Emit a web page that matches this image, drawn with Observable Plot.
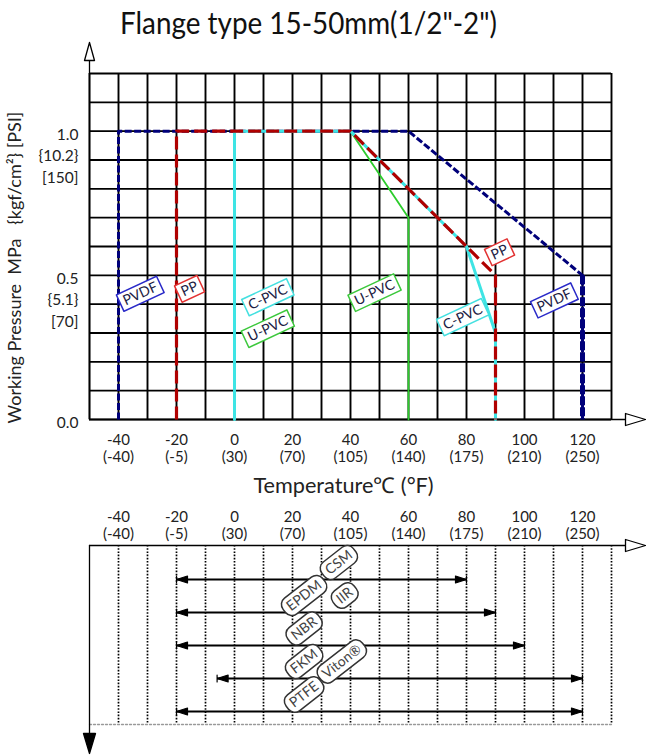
<!DOCTYPE html>
<html><head><meta charset="utf-8">
<script src="https://cdn.jsdelivr.net/npm/d3@7"></script>
<script src="https://cdn.jsdelivr.net/npm/@observablehq/plot@0.6"></script>
<style>
body{margin:0;background:#fff;}
#chart{width:646px;position:relative;}
#chart svg{display:block;}
#titlebox{height:40px;position:relative;overflow:visible;}
#title{position:absolute;left:0;top:2px;white-space:nowrap;font-size:31px;line-height:40px;color:#111;transform-origin:0 50%;}
</style></head><body>
<div id="chart"><div id="titlebox"><span id="title">Flange type 15-50mm(1/2"-2")</span></div></div>
<script>
const FONT = "Lato, 'Open Sans', sans-serif";

// ---- data ----
const tempC = [-40, -20, 0, 20, 40, 60, 80, 100, 120];
const tempF = ["(-40)", "(-5)", "(30)", "(70)", "(105)", "(140)", "(175)", "(210)", "(250)"];
const gridT = [-50, -40, -30, -20, -10, 0, 10, 20, 30, 40, 50, 60, 70, 80, 90, 100, 110, 120, 130];
const gridP = [0, 0.1, 0.2, 0.3, 0.4, 0.5, 0.6, 0.7, 0.8, 0.9, 1.0, 1.1, 1.2];
const dotT = [-40, -30, -20, -10, 0, 10, 20, 30, 40, 50, 60, 70, 80, 90, 100, 110, 120, 130];
const pTicks = [1.0, 0.5, 0.0];
const pTickLabels = ["1.0\n{10.2}\n[150]", "0.5\n{5.1}\n[70]", "0.0"];

const pvdfT = [-40, -40, 60, 120, 120];
const pvdfP = [0, 1.0, 1.0, 0.5, 0];
const ppT = [-20, -20, 40, 80, 90, 90];
const ppP = [0, 1.0, 1.0, 0.6, 0.5, 0];
const cpvcT = [0, 0, 40, 80, 90, 90];
const cpvcP = [0, 1.0, 1.0, 0.6, 0.3, 0];
const upvcT = [0, 0, 40, 60, 60];
const upvcP = [0, 1.0, 1.0, 0.7, 0];

const matLabels = ["PVDF", "PP", "C-PVC", "U-PVC", "U-PVC", "PP", "C-PVC", "PVDF"];
const matLabelT = [-32.5, -15.5, 11.5, 11.5, 48.3, 91.4, 78.7, 110.3];
const matLabelP = [0.436, 0.453, 0.424, 0.315, 0.44, 0.58, 0.355, 0.413];

const gaskets = ["CSM", "EPDM·IIR", "NBR", "FKM·Viton", "PTFE"];
const gasketMin = [-20, -20, -20, -6, -20];
const gasketMax = [80, 90, 100, 120, 120];
const tagNames = ["CSM", "EPDM", "IIR", "NBR", "FKM", "Viton®", "PTFE"];
const tagRow = ["CSM", "EPDM·IIR", "EPDM·IIR", "NBR", "FKM·Viton", "FKM·Viton", "PTFE"];
const tagT = [36, 24, 38, 24, 24, 37, 24];

const yTitle = "Working Pressure\u00a0\u00a0MPa\u00a0\u00a0\u00a0{kgf/cm²}\u00a0[PSI]";
const xTitle = "Temperature℃ (°F)";

// ---- tables ----
const toPts = (T, P) => T.map((t, i) => ({t, p: P[i]}));
const pvdf = toPts(pvdfT, pvdfP), pp = toPts(ppT, ppP), cpvc = toPts(cpvcT, cpvcP), upvc = toPts(upvcT, upvcP);
const mats = matLabels.map((name, i) => ({name, t: matLabelT[i], p: matLabelP[i]}));
const gas = gaskets.map((row, i) => ({row, min: gasketMin[i], max: gasketMax[i]}));
const tags = tagNames.map((name, i) => ({name, row: tagRow[i], t: tagT[i]}));

// ---- helpers ----
const mctx = document.createElement("canvas").getContext("2d");
function textW(s, size) { mctx.font = `${size}px ${FONT}`; return mctx.measureText(s).width; }
const fitSize = (s, target, base) => base * target / textW(s, base);

// title: condensed to the reference width (120 → 497 px)
const titleEl = document.getElementById("title");
titleEl.style.fontFamily = FONT;
const tw = textW(titleEl.textContent, 31);
titleEl.style.left = "120px";
titleEl.style.transform = `scaleX(${377 / tw})`;

const boxColor = {"PVDF": "#2a2ac8", "PP": "#e23232", "C-PVC": "#45e0e0", "U-PVC": "#3cc83c"};
const lineShape = {draw(c, l) { c.moveTo(0, 0); c.lineTo(0, -l); }};
const axisArrow = (head, half) => ({draw(c, l) {
  c.moveTo(0, 0); c.lineTo(0, -l + head);
  c.moveTo(0, -l); c.lineTo(-half, -l + head); c.lineTo(half, -l + head); c.closePath();
}});
const headShape = {draw(c, l, r) {
  c.moveTo(0, 0); c.lineTo(-r, l); c.lineTo(r, l); c.closePath();
  c.moveTo(-r, 0); c.lineTo(r, 0);
}};
const boxShape = {draw(c, l, r) { c.rect(-r, -l, 2 * r, l); }};
const roundShape = {draw(c, l, r) {
  const k = 8;
  c.moveTo(0, -l);
  c.arcTo(r, -l, r, 0, k); c.arcTo(r, 0, -r, 0, k);
  c.arcTo(-r, 0, -r, -l, k); c.arcTo(-r, -l, r, -l, k); c.closePath();
}};

const W = 646;
const topPlot = Plot.plot({
  width: W, height: 460,
  marginLeft: 89, marginRight: 35, marginTop: 33, marginBottom: 81,
  x: {domain: [-50, 130], axis: null},
  y: {domain: [0, 1.2], axis: null},
  length: {type: "identity"},
  style: {fontFamily: FONT, background: "white", overflow: "visible", color: "#111"},
  marks: [
    Plot.ruleX(gridT, {stroke: "black", strokeWidth: 1.9}),
    Plot.ruleY(gridP, {stroke: "black", strokeWidth: 1.9}),
    Plot.vector([0], {frameAnchor: "bottom-left", rotate: 0, length: 377, anchor: "start", shape: axisArrow(18, 5), fill: "white", stroke: "black", strokeWidth: 1.3}),
    Plot.vector([0], {frameAnchor: "bottom-left", rotate: 90, length: 556, anchor: "start", shape: axisArrow(20, 6), fill: "white", stroke: "black", strokeWidth: 1.3}),
    Plot.line(pvdf, {x: "t", y: "p", stroke: "#00007a", strokeWidth: 3, strokeDasharray: "7,2.5", strokeLinecap: "butt"}),
    Plot.line(pvdf.slice(-2), {x: "t", y: "p", stroke: "#00007a", strokeWidth: 5, strokeDasharray: "9,2", strokeLinecap: "butt"}),
    Plot.line(upvc, {x: "t", y: "p", stroke: "#2ccc2c", strokeWidth: 1.8}),
    Plot.line(cpvc, {x: "t", y: "p", stroke: "#3ee4e4", strokeWidth: 3}),
    Plot.line(pp, {x: "t", y: "p", stroke: "#b00000", strokeWidth: 3.2, strokeDasharray: "13,5", strokeLinecap: "butt"}),
    Plot.vector(mats, {x: "t", y: "p", rotate: 65, anchor: "middle", length: d => textW(d.name, 14) + 8, r: 9,
      shape: boxShape, fill: "white", stroke: d => boxColor[d.name], strokeWidth: 1.5}),
    Plot.text(mats, {x: "t", y: "p", text: "name", rotate: -25, fontSize: 14, fill: "#1c1c44"}),
    Plot.text(tempC, {x: d => d, frameAnchor: "bottom", text: (d, i) => `${d}\n${tempF[i]}`, lineAnchor: "top", dy: 14, lineHeight: 1.1, fontSize: 15, fill: "#222"}),
    Plot.text(pTicks, {y: d => d, frameAnchor: "left", text: (d, i) => pTickLabels[i], textAnchor: "end", dx: -11, lineAnchor: "top", dy: -7, lineHeight: 1.4, fontSize: 15.5, fill: "#222"}),
    Plot.text([yTitle], {frameAnchor: "left", textAnchor: "middle", lineAnchor: "middle", rotate: -90, dx: -74, dy: 21, fontSize: fitSize(yTitle, 312, 16), text: d => d, fill: "#222"}),
    Plot.text([xTitle], {frameAnchor: "bottom", textAnchor: "middle", lineAnchor: "middle", dy: 67, dx: -7, fontSize: fitSize(xTitle, 180, 18), text: d => d, fill: "#222"})
  ]
});

const bottomPlot = Plot.plot({
  width: W, height: 256,
  marginLeft: 89, marginRight: 35, marginTop: 45, marginBottom: 32,
  x: {domain: [-50, 130], axis: null},
  y: {type: "point", domain: gaskets, range: [77, 212], padding: 0, axis: null},
  length: {type: "identity"},
  style: {fontFamily: FONT, background: "white", overflow: "visible", color: "#111"},
  marks: [
    Plot.ruleX(dotT, {stroke: "black", strokeWidth: 1.7, strokeDasharray: "1.6,1.6"}),
    Plot.vector([0], {frameAnchor: "bottom-left", rotate: 90, length: 522, anchor: "start", shape: lineShape, stroke: "#999", strokeWidth: 1.3, strokeDasharray: "2,2"}),
    Plot.vector([0], {frameAnchor: "top-left", rotate: 90, length: 556, anchor: "start", shape: axisArrow(20, 6), fill: "white", stroke: "black", strokeWidth: 1.3}),
    Plot.vector([0], {frameAnchor: "top-left", rotate: 180, length: 208, anchor: "start", shape: axisArrow(20, 6), fill: "black", stroke: "black", strokeWidth: 1.3}),
    Plot.text(tempC, {x: d => d, frameAnchor: "top", text: (d, i) => `${d}\n${tempF[i]}`, lineAnchor: "bottom", dy: -7, lineHeight: 1.1, fontSize: 15, fill: "#222"}),
    Plot.link(gas, {x1: "min", x2: "max", y1: "row", y2: "row", stroke: "black", strokeWidth: 2.2}),
    Plot.vector(gas, {x: "max", y: "row", rotate: 90, anchor: "start", length: 11, r: 3.5, shape: headShape, fill: "black", stroke: "black", strokeWidth: 1.2}),
    Plot.vector(gas, {x: "min", y: "row", rotate: -90, anchor: "start", length: 11, r: 3.5, shape: headShape, fill: "black", stroke: "black", strokeWidth: 1.2}),
    Plot.vector(tags, {x: "t", y: "row", dy: -17, rotate: 52, anchor: "middle", length: d => textW(d.name, 14) + 10, r: 10,
      shape: roundShape, fill: "white", stroke: "#333", strokeWidth: 1.5}),
    Plot.text(tags, {x: "t", y: "row", dy: -17, text: "name", rotate: -38, fontSize: 14, fill: "#444"})
  ]
});

document.getElementById("chart").append(topPlot, bottomPlot);
</script>
</body></html>
